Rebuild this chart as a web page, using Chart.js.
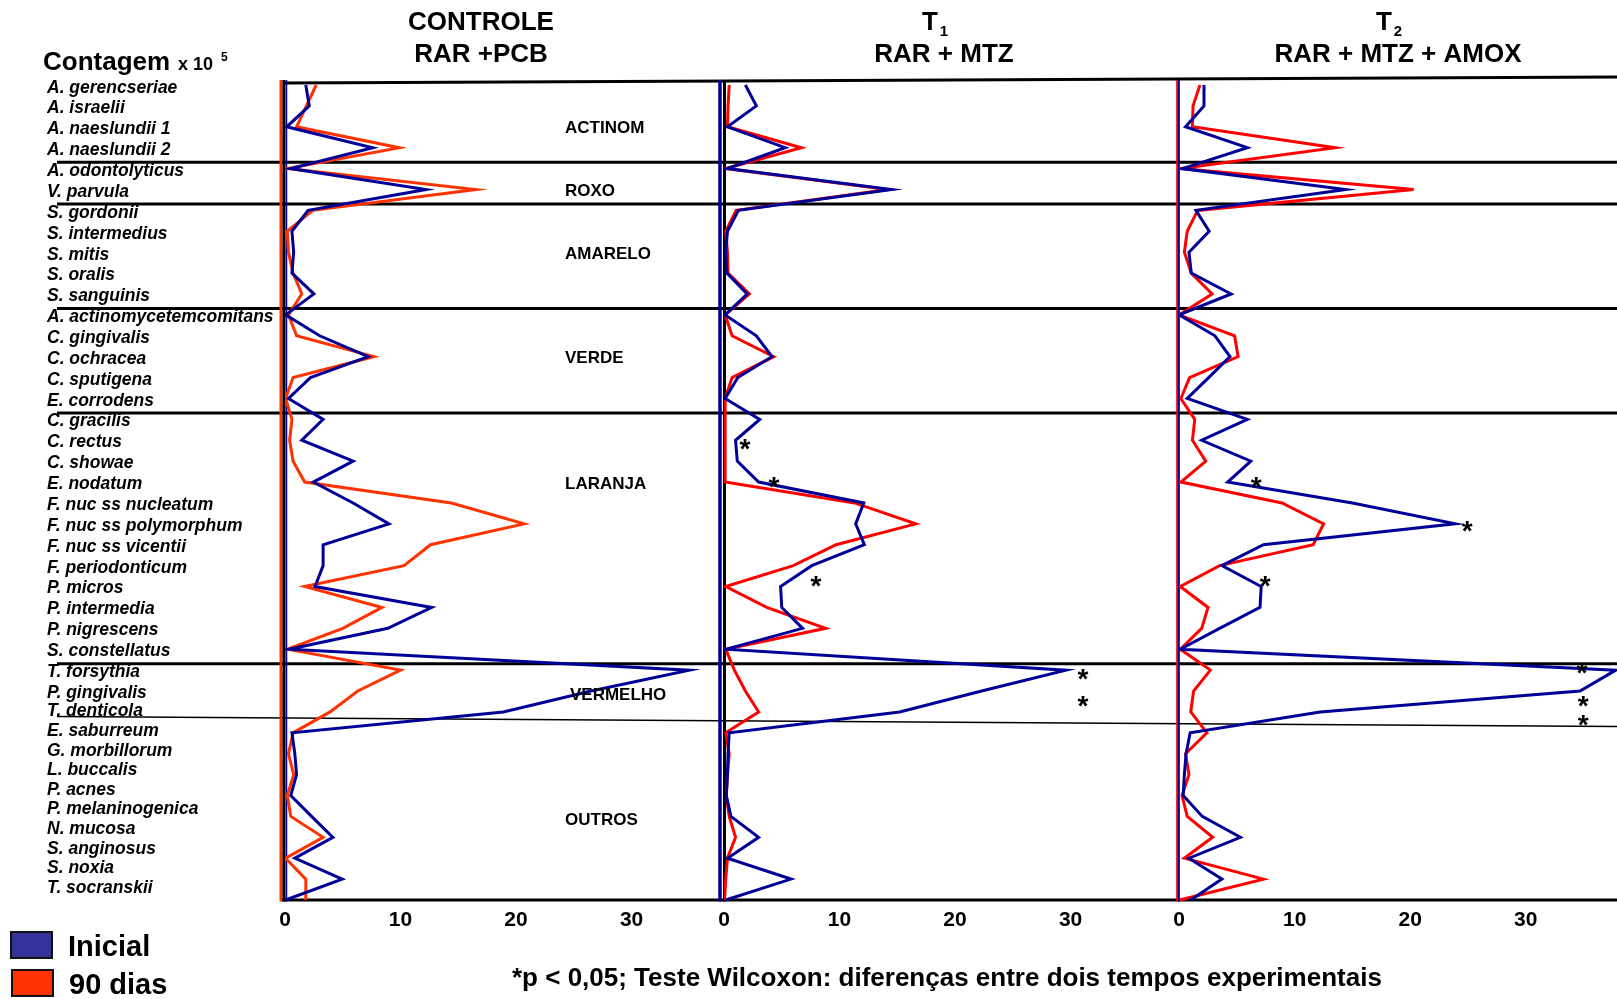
<!DOCTYPE html>
<html>
<head>
<meta charset="utf-8">
<script src="https://cdn.jsdelivr.net/npm/chart.js@4/dist/chart.umd.min.js"></script>
<style>
  html, body { margin: 0; padding: 0; background: #ffffff; }
  #wrap { position: relative; width: 1617px; height: 999px; }
</style>
</head>
<body>
<div id="wrap"><canvas id="chart" width="1617" height="999"></canvas></div>
<script>
// Species, in the order of the microbial complexes
const species = [
  'A. gerencseriae', 'A. israelii', 'A. naeslundii 1', 'A. naeslundii 2',
  'A. odontolyticus', 'V. parvula',
  'S. gordonii', 'S. intermedius', 'S. mitis', 'S. oralis', 'S. sanguinis',
  'A. actinomycetemcomitans', 'C. gingivalis', 'C. ochracea', 'C. sputigena', 'E. corrodens',
  'C. gracilis', 'C. rectus', 'C. showae', 'E. nodatum', 'F. nuc ss nucleatum',
  'F. nuc ss polymorphum', 'F. nuc ss vicentii', 'F. periodonticum', 'P. micros',
  'P. intermedia', 'P. nigrescens', 'S. constellatus',
  'T. forsythia', 'P. gingivalis', 'T. denticola',
  'E. saburreum', 'G. morbillorum', 'L. buccalis', 'P. acnes', 'P. melaninogenica',
  'N. mucosa', 'S. anginosus', 'S. noxia', 'T. socranskii'
];

// Complexes and number of species in each
const complexNames = ['ACTINOM', 'ROXO', 'AMARELO', 'VERDE', 'LARANJA', 'VERMELHO', 'OUTROS'];
const complexSizes = [4, 2, 5, 5, 12, 3, 9];

// Counts (x 10^5) — CONTROLE (RAR + PCB)
const controleInicial = [1.8, 2.1, 0.15, 7.6, 0.5, 12.2, 2.0, 0.6, 0.75, 0.6, 2.5, 0.05,
  3.0, 7.2, 2.2, 0.3, 3.3, 1.45, 5.9, 2.45, 5.9, 9.0, 3.3, 3.3, 2.6, 12.7, 8.9, 0.35,
  35.0, 26.5, 18.9, 0.6, 0.85, 1.0, 0.5, 2.3, 4.15, 0.85, 4.95, 0.05];
const controle90 = [2.7, 1.85, 1.0, 9.9, 0.2, 16.5, 2.4, 0.2, 0.3, 0.7, 1.45, 0.3,
  1.0, 7.7, 0.7, 0.05, 0.6, 0.4, 0.7, 1.7, 14.4, 20.7, 12.6, 10.3, 1.7, 8.4, 5.0, 0.2,
  10.0, 6.3, 3.9, 0.7, 0.3, 0.75, 0.2, 0.5, 3.3, 0.05, 1.8, 1.8];

// T1 (RAR + MTZ)
const t1Inicial = [1.85, 2.8, 0.3, 5.3, 0.3, 14.5, 1.25, 0.3, 0.15, 0.25, 2.0, 0.1,
  2.8, 4.15, 1.2, 0.1, 3.1, 1.0, 1.15, 3.0, 12.1, 11.4, 12.15, 7.6, 4.9, 5.0, 6.8, 0.15,
  29.6, 22.3, 15.2, 0.45, 0.35, 0.3, 0.2, 0.6, 3.0, 0.3, 5.8, 0.15];
const t190 = [0.45, 0.35, 0.3, 6.7, 0.15, 14.2, 1.05, 0.15, 0.3, 0.35, 2.2, 0.1,
  0.7, 4.3, 0.7, 0.1, 0.1, 0.1, 0.1, 0.1, 11.3, 16.6, 9.7, 6.0, 0.15, 3.7, 8.8, 0.15,
  0.9, 1.85, 3.0, 0.15, 0.45, 0.3, 0.2, 0.45, 1.0, 0.3, 0.15, 0.05];

// T2 (RAR + MTZ + AMOX)
const t2Inicial = [2.15, 2.15, 0.55, 5.9, 0.3, 14.4, 1.45, 2.6, 0.85, 1.05, 4.5, 0.0,
  3.1, 4.4, 2.55, 0.7, 5.9, 1.95, 6.2, 4.2, 15.0, 23.9, 7.3, 3.7, 7.1, 7.0, 3.5, 0.1,
  37.8, 34.7, 12.2, 0.95, 0.6, 0.45, 0.35, 2.0, 5.3, 0.85, 3.7, 1.0];
const t290 = [1.8, 1.2, 1.15, 13.5, 0.15, 20.3, 1.6, 0.7, 0.45, 1.05, 2.85, 0.0,
  4.8, 5.1, 0.9, 0.15, 1.35, 1.15, 2.3, 0.15, 8.9, 12.5, 11.6, 3.5, 0.1, 2.5, 1.95, 0.1,
  2.7, 1.25, 1.0, 2.4, 0.55, 0.85, 0.25, 0.7, 2.9, 0.45, 7.3, 0.05];

// Significance marks (*p < 0,05): [row, count where the mark sits]
const t1Asterisks = [[17.23, 1.82], [19.05, 4.33], [23.78, 7.97], [28.23, 31.08], [29.52, 31.08]];
const t2Asterisks = [[19.05, 6.67], [21.15, 24.94], [23.78, 7.45], [27.95, 34.87], [29.52, 34.98], [30.43, 34.98]];

// Axis ranges of the three panels (counts x 10^5)
const panelMax = [38.0, 39.4, 37.9];
const tickStep = 10;

const FONT = '"Liberation Sans", Arial, Helvetica, sans-serif';
const BLUE = '#000099';
const RED1 = '#ff3300';
const RED = '#ff0000';

function serie(label, data, axisId, color, fillColor) {
  return {
    label, data, xAxisID: axisId, yAxisID: 'y',
    borderColor: color, backgroundColor: fillColor,
    borderWidth: 3, pointRadius: 0, pointHoverRadius: 0,
    tension: 0, fill: false, borderJoinStyle: 'miter'
  };
}

function panelScale(max) {
  return {
    type: 'linear', position: 'bottom', stack: 'paineis', stackWeight: max,
    min: 0, max: max,
    grid: { display: false, drawTicks: false },
    border: { display: false },
    ticks: {
      stepSize: tickStep, includeBounds: false, padding: 8, color: '#000',
      font: { family: FONT, size: 21, weight: 'bold' }
    },
    afterFit: s => { s.height = 40; }
  };
}

// Species name column: two stacked pieces, the lower one set a little tighter
function namesScale(min, max, share, order) {
  return {
    type: 'linear', position: 'left', reverse: true,
    stack: 'nomes', stackWeight: share, weight: order,
    min: min, max: max,
    grid: { display: false, drawTicks: false },
    border: { display: false },
    ticks: {
      stepSize: 1, includeBounds: false, autoSkip: false,
      crossAlign: 'far', padding: 0, color: '#000',
      font: { family: FONT, size: 17.5, weight: 'bold', style: 'italic' },
      callback: v => species[v] ?? ''
    },
    afterFit: s => { s.width = 238; }
  };
}

const decor = {
  id: 'decor',
  beforeDatasetsDraw(chart) {
    const { ctx, scales, chartArea } = chart;
    const ys = scales.y;
    const right = chart.width;
    ctx.save();
    ctx.strokeStyle = '#000';
    ctx.lineCap = 'butt';

    // frame: top and bottom
    const yTop = ys.getPixelForValue(-0.24);
    ctx.lineWidth = 3;
    ctx.beginPath(); ctx.moveTo(chartArea.left - 1, yTop + 3); ctx.lineTo(right, yTop - 3); ctx.stroke();
    ctx.beginPath(); ctx.moveTo(chartArea.left - 3, chartArea.bottom); ctx.lineTo(right, chartArea.bottom); ctx.stroke();

    // complex dividers
    let cum = 0;
    complexSizes.forEach((n, i) => {
      cum += n;
      if (i === complexSizes.length - 1) return;
      const yy = ys.getPixelForValue(cum - 0.3);
      ctx.beginPath();
      if (complexNames[i] === 'VERMELHO') {
        ctx.lineWidth = 1.5;
        ctx.moveTo(57, yy - 10); ctx.lineTo(right, yy);
      } else {
        ctx.lineWidth = 3;
        ctx.moveTo(57, yy); ctx.lineTo(right, yy);
      }
      ctx.stroke();
    });

    // panel axes (zero lines)
    const axisStyles = {
      x1: [[RED1, 3, -4], ['#000', 3, -1], [BLUE, 1.5, 1.5]],
      x2: [[BLUE, 3.5, -4], ['#000', 3, 0.5]],
      x3: [[RED, 2, -2], [BLUE, 2, -0.3]]
    };
    Object.keys(axisStyles).forEach(id => {
      const x0 = scales[id].getPixelForValue(0);
      axisStyles[id].forEach(([c, w, dx]) => {
        ctx.strokeStyle = c; ctx.lineWidth = w;
        ctx.beginPath(); ctx.moveTo(x0 + dx, yTop); ctx.lineTo(x0 + dx, chartArea.bottom + 1.5); ctx.stroke();
      });
    });
    ctx.restore();
  },
  afterDraw(chart) {
    const { ctx, scales } = chart;
    const ys = scales.y;
    ctx.save();
    ctx.fillStyle = '#000';
    ctx.textBaseline = 'alphabetic';

    // panel titles
    ctx.textAlign = 'center';
    ctx.font = 'bold 26px ' + FONT;
    ctx.fillText('CONTROLE', 481, 30);
    ctx.fillText('RAR +PCB', 481, 62);
    ctx.fillText('RAR + MTZ', 944, 62);
    ctx.fillText('RAR + MTZ + AMOX', 1398, 62);
    [['1', 944], ['2', 1398]].forEach(([sub, cx]) => {
      ctx.font = 'bold 26px ' + FONT;
      const wT = ctx.measureText('T').width;
      ctx.font = 'bold 15px ' + FONT;
      const wS = ctx.measureText(sub).width;
      const start = cx - 9 - (wT + 2 + wS) / 2;
      ctx.textAlign = 'left';
      ctx.font = 'bold 26px ' + FONT;
      ctx.fillText('T', start, 30);
      ctx.font = 'bold 15px ' + FONT;
      ctx.fillText(sub, start + wT + 2, 36);
    });

    // count label
    ctx.textAlign = 'left';
    ctx.font = 'bold 26px ' + FONT;
    ctx.fillText('Contagem', 43, 70);
    ctx.font = 'bold 18px ' + FONT;
    ctx.fillText('x 10', 178, 70);
    ctx.font = 'bold 12px ' + FONT;
    ctx.fillText('5', 221, 61);

    // complex names
    const rows = { ACTINOM: 2.06, ROXO: 5.07, AMARELO: 8.09, VERDE: 13.1, LARANJA: 19.1, VERMELHO: 29.2, OUTROS: 35.2 };
    ctx.font = 'bold 17px ' + FONT;
    ctx.textBaseline = 'middle';
    complexNames.forEach(name => {
      const x = name === 'VERMELHO' ? 570 : 565;
      ctx.fillText(name, x, ys.getPixelForValue(rows[name]));
    });

    // significance asterisks
    ctx.textAlign = 'center';
    ctx.textBaseline = 'alphabetic';
    ctx.font = 'bold 28px ' + FONT;
    [['x2', t1Asterisks], ['x3', t2Asterisks]].forEach(([id, marks]) => {
      marks.forEach(([row, v]) => {
        ctx.fillText('*', scales[id].getPixelForValue(v), ys.getPixelForValue(row) + 13);
      });
    });

    // legend
    const seen = [];
    chart.data.datasets.forEach(d => { if (!seen.find(s => s.label === d.label)) seen.push(d); });
    const legendRows = [[11, 932, 956], [12, 970, 994]];
    seen.forEach((d, i) => {
      const [bx, by, base] = legendRows[i];
      ctx.fillStyle = d.backgroundColor;
      ctx.fillRect(bx, by, 41, 26);
      ctx.strokeStyle = '#111';
      ctx.lineWidth = 2;
      ctx.strokeRect(bx, by, 41, 26);
      ctx.fillStyle = '#000';
      ctx.textAlign = 'left';
      ctx.font = 'bold 29px ' + FONT;
      ctx.fillText(d.label, 68 + i, base);
    });

    // footnote
    ctx.font = 'bold 26px ' + FONT;
    ctx.fillText('*p < 0,05; Teste Wilcoxon: diferenças entre dois tempos experimentais', 512, 986);
    ctx.restore();
  }
};

new Chart(document.getElementById('chart'), {
  type: 'line',
  data: {
    labels: species,
    datasets: [
      serie('Inicial', controleInicial, 'x1', BLUE, '#333399'),
      serie('90 dias', controle90, 'x1', RED1, '#ff3300'),
      serie('Inicial', t1Inicial, 'x2', BLUE, '#333399'),
      serie('90 dias', t190, 'x2', RED, '#ff3300'),
      serie('Inicial', t2Inicial, 'x3', BLUE, '#333399'),
      serie('90 dias', t290, 'x3', RED, '#ff3300')
    ]
  },
  options: {
    indexAxis: 'y',
    responsive: false,
    animation: false,
    events: [],
    layout: { padding: { top: 85, left: 47, right: 0, bottom: 59 } },
    plugins: { legend: { display: false }, tooltip: { enabled: false }, title: { display: false } },
    scales: {
      // row axis used by the series (one row per species)
      y: { type: 'category', offset: false, display: false },
      nomesA: namesScale(-0.129, 29.43, 617, 1),
      nomesB: namesScale(29.51, 39.61, 198, 0),
      x1: panelScale(panelMax[0]),
      x2: panelScale(panelMax[1]),
      x3: panelScale(panelMax[2])
    }
  },
  plugins: [decor]
});
</script>
</body>
</html>
